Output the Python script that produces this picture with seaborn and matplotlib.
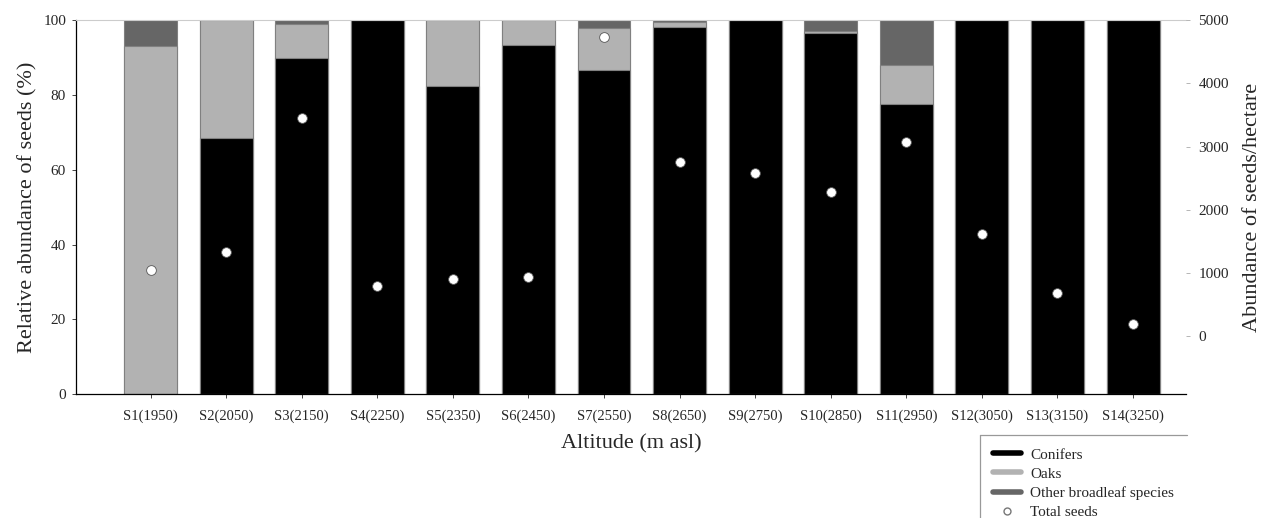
import numpy as np
import pandas as pd
import matplotlib
matplotlib.use("Agg")
import matplotlib.pyplot as plt
from matplotlib.lines import Line2D
import seaborn as sns

sites = ["S1(1950)", "S2(2050)", "S3(2150)", "S4(2250)", "S5(2350)", "S6(2450)",
         "S7(2550)", "S8(2650)", "S9(2750)", "S10(2850)", "S11(2950)", "S12(3050)",
         "S13(3150)", "S14(3250)"]
conifers = [0.0, 68.5, 89.8, 100.0, 82.4, 93.3, 86.8, 98.2, 100.0, 96.6, 77.5, 100.0, 100.0, 100.0]
oaks = [93.0, 31.5, 9.2, 0.0, 17.6, 6.7, 11.2, 1.2, 0.0, 0.6, 10.5, 0.0, 0.0, 0.0]
other = [7.0, 0.0, 1.0, 0.0, 0.0, 0.0, 2.0, 0.6, 0.0, 2.8, 12.0, 0.0, 0.0, 0.0]
total_seeds = [1040, 1330, 3445, 790, 910, 935, 4735, 2750, 2585, 2280, 3075, 1620, 690, 185]

sns.set_theme(style="white")
plt.rcParams["font.family"] = ["Liberation Serif", "DejaVu Serif"]

df = pd.DataFrame({"site": sites, "conifers": conifers, "oaks": oaks,
                   "other": other, "total": total_seeds})
df["top_oaks"] = df["conifers"] + df["oaks"]
df["top_other"] = df["top_oaks"] + df["other"]

c_con, c_oak, c_oth = "#000000", "#b2b2b2", "#666666"

fig = plt.figure(figsize=(12.63, 5.18), dpi=100)
ax = fig.add_axes([0.060, 0.239, 0.879, 0.722])

kw = dict(x="site", ax=ax, width=0.7, edgecolor="#808080", linewidth=0.8,
          order=sites, errorbar=None)
sns.barplot(data=df, y="top_other", color=c_oth, saturation=1, **kw)
sns.barplot(data=df, y="top_oaks", color=c_oak, saturation=1, **kw)
sns.barplot(data=df, y="conifers", color=c_con, saturation=1, **kw)

ax.set_ylim(0, 100)
ax.set_xlim(-0.99, 13.7)
ax.set_yticks([0, 20, 40, 60, 80, 100])
ax.set_ylabel("Relative abundance of seeds (%)", fontsize=16)
ax.set_xlabel("Altitude (m asl)", fontsize=16, labelpad=8)
ax.tick_params(axis="y", labelsize=11, left=True, length=3, width=0.6, pad=4)
ax.tick_params(axis="x", labelsize=10.5, bottom=True, length=3, width=0.6, pad=8)
for s in ["left", "bottom"]:
    ax.spines[s].set_color("black")
    ax.spines[s].set_linewidth(0.9)
ax.spines["top"].set_color("#cccccc")
ax.spines["top"].set_linewidth(0.8)
ax.spines["right"].set_visible(False)

ax2 = ax.twinx()
sns.stripplot(data=df, x="site", y="total", order=sites, ax=ax2, jitter=False,
              color="white", edgecolor="#555555", linewidth=0.6, size=7, zorder=5)
ax2.set_ylim(-918, 5000)
ax2.set_yticks([0, 1000, 2000, 3000, 4000, 5000])
ax2.set_ylabel("Abundance of seeds/hectare", fontsize=16, labelpad=10)
ax2.tick_params(axis="y", labelsize=11, right=True, length=3, width=0.6,
                color="#aaaaaa", pad=6)
for s in ["left", "bottom", "top", "right"]:
    ax2.spines[s].set_visible(False)
ax2.set_xlim(-0.99, 13.7)

handles = [Line2D([], [], color=c_con, lw=4),
           Line2D([], [], color=c_oak, lw=4),
           Line2D([], [], color=c_oth, lw=4),
           Line2D([], [], ls="none", marker="o", markerfacecolor="white",
                  markeredgecolor="#777777", markersize=5)]
labels = ["Conifers", "Oaks", "Other broadleaf species", "Total seeds"]
leg = fig.legend(handles, labels, loc="upper right",
                 bbox_to_anchor=(1187 / 1263, 1 - 435 / 518),
                 fontsize=11, frameon=False,
                 handlelength=1.8, handletextpad=0.6, labelspacing=0.35,
                 borderpad=0.85, borderaxespad=0)

# open-sided legend frame (top and left edges only, as in the reference)
fig.canvas.draw()
bb = leg.get_window_extent().transformed(fig.transFigure.inverted())
fig.add_artist(Line2D([bb.x0, bb.x1], [bb.y1, bb.y1], transform=fig.transFigure,
                      color="#999999", lw=0.9))
fig.add_artist(Line2D([bb.x0, bb.x0], [bb.y0, bb.y1], transform=fig.transFigure,
                      color="#999999", lw=0.9))

fig.savefig("out.png", dpi=100)
